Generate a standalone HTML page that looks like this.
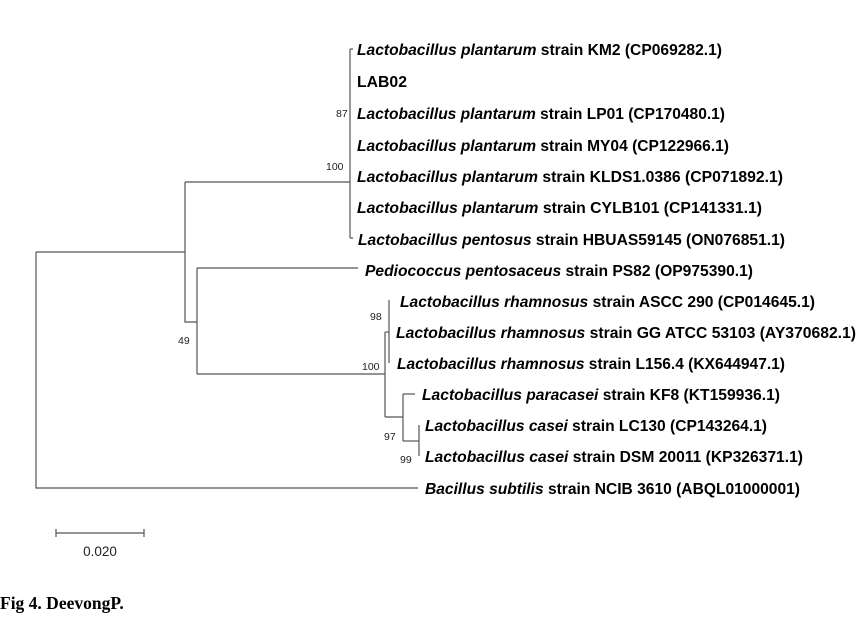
<!DOCTYPE html>
<html><head><meta charset="utf-8"><style>
html,body{margin:0;padding:0;background:#fff;}
svg{display:block;}
.t{font-family:"Liberation Sans",Arial,sans-serif;font-weight:bold;font-size:15.5px;fill:#000;}
.b{font-family:"Liberation Sans",Arial,sans-serif;font-size:10.5px;fill:#222;}
</style></head><body>
<svg width="867" height="635" viewBox="0 0 867 635" xmlns="http://www.w3.org/2000/svg">
<g stroke="#555" stroke-width="1.2" fill="none">
<path d="M36 252V488H418"/>
<path d="M36 252H185"/>
<path d="M185 182V322H197"/>
<path d="M185 182H350"/>
<path d="M350 49V238"/>
<path d="M350 49H353M350 238H353"/>
<path d="M197 268V374"/>
<path d="M197 268H358"/>
<path d="M197 374H385"/>
<path d="M385 332V417"/>
<path d="M385 332H389"/>
<path d="M389 300V363"/>
<path d="M385 417H403"/>
<path d="M403 394V441"/>
<path d="M403 394H415"/>
<path d="M403 441H419"/>
<path d="M419 425V456"/>
<path d="M56 533H144M56 529V537M144 529V537"/>
</g>
<g class="t">
<text x="357" y="55" textLength="365" lengthAdjust="spacingAndGlyphs"><tspan font-style="italic">Lactobacillus plantarum</tspan> strain KM2 (CP069282.1)</text>
<text x="357" y="87" textLength="50" lengthAdjust="spacingAndGlyphs">LAB02</text>
<text x="357" y="119" textLength="368" lengthAdjust="spacingAndGlyphs"><tspan font-style="italic">Lactobacillus plantarum</tspan> strain LP01 (CP170480.1)</text>
<text x="357" y="151" textLength="372" lengthAdjust="spacingAndGlyphs"><tspan font-style="italic">Lactobacillus plantarum</tspan> strain MY04 (CP122966.1)</text>
<text x="357" y="182" textLength="426" lengthAdjust="spacingAndGlyphs"><tspan font-style="italic">Lactobacillus  plantarum</tspan> strain KLDS1.0386 (CP071892.1)</text>
<text x="357" y="213" textLength="405" lengthAdjust="spacingAndGlyphs"><tspan font-style="italic">Lactobacillus  plantarum</tspan> strain CYLB101 (CP141331.1)</text>
<text x="358" y="245" textLength="427" lengthAdjust="spacingAndGlyphs"><tspan font-style="italic">Lactobacillus pentosus</tspan> strain HBUAS59145 (ON076851.1)</text>
<text x="365" y="276" textLength="388" lengthAdjust="spacingAndGlyphs"><tspan font-style="italic">Pediococcus pentosaceus</tspan> strain PS82 (OP975390.1)</text>
<text x="400" y="307" textLength="415" lengthAdjust="spacingAndGlyphs"><tspan font-style="italic">Lactobacillus rhamnosus</tspan> strain ASCC 290 (CP014645.1)</text>
<text x="396" y="338" textLength="460" lengthAdjust="spacingAndGlyphs"><tspan font-style="italic">Lactobacillus rhamnosus</tspan> strain GG ATCC 53103 (AY370682.1)</text>
<text x="397" y="369" textLength="388" lengthAdjust="spacingAndGlyphs"><tspan font-style="italic">Lactobacillus rhamnosus</tspan> strain L156.4 (KX644947.1)</text>
<text x="422" y="400" textLength="358" lengthAdjust="spacingAndGlyphs"><tspan font-style="italic">Lactobacillus paracasei</tspan> strain KF8 (KT159936.1)</text>
<text x="425" y="431" textLength="342" lengthAdjust="spacingAndGlyphs"><tspan font-style="italic">Lactobacillus casei</tspan> strain LC130 (CP143264.1)</text>
<text x="425" y="462" textLength="378" lengthAdjust="spacingAndGlyphs"><tspan font-style="italic">Lactobacillus casei</tspan> strain DSM 20011 (KP326371.1)</text>
<text x="425" y="494" textLength="375" lengthAdjust="spacingAndGlyphs"><tspan font-style="italic">Bacillus subtilis</tspan> strain NCIB 3610 (ABQL01000001)</text>
</g>
<g class="b">
<text x="336" y="117">87</text>
<text x="326" y="170">100</text>
<text x="370" y="320">98</text>
<text x="178" y="344">49</text>
<text x="362" y="370">100</text>
<text x="384" y="440">97</text>
<text x="400" y="463">99</text>
</g>
<text x="100" y="556" text-anchor="middle" font-family="Liberation Sans,Arial,sans-serif" font-size="13.5" fill="#222">0.020</text>
<text x="0" y="609" font-family="Liberation Serif,'Times New Roman',serif" font-weight="bold" font-size="17.5" fill="#000">Fig 4. DeevongP.</text>
</svg>
</body></html>
